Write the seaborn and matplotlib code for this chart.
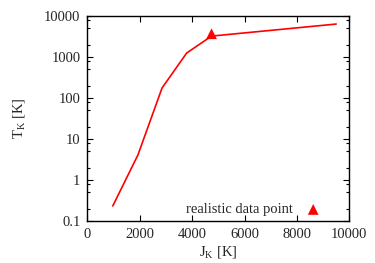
import matplotlib
matplotlib.use("Agg")
import matplotlib.pyplot as plt
import matplotlib.ticker as mticker
import seaborn as sns
import pandas as pd

# data
j_k = [970, 1930, 2850, 3790, 4740, 9500]
t_k = [0.232, 4.07, 175, 1250, 3240, 6380]
real_j = [4740]
real_t = [3700]

sns.set_style("ticks")
plt.rcParams['font.family'] = ['Liberation Serif', 'DejaVu Serif']
plt.rcParams['mathtext.fontset'] = 'custom'
plt.rcParams['mathtext.rm'] = 'Liberation Serif'
plt.rcParams['mathtext.it'] = 'Liberation Serif:italic'
plt.rcParams['font.size'] = 10.5

df = pd.DataFrame({'J': j_k, 'T': t_k})
pt = pd.DataFrame({'J': real_j, 'T': real_t})

fig = plt.figure(figsize=(3.75, 2.63), dpi=100)
ax = fig.add_axes([0.233, 0.160, 0.6985, 0.779])

sns.lineplot(data=df, x='J', y='T', color='#ff0000', lw=1.2, ax=ax)
sns.scatterplot(data=pt, x='J', y='T', marker='^', color='#ff0000', s=60,
                edgecolor='none', label='realistic data point', ax=ax)

ax.set_yscale('log')
ax.set_xlim(0, 10000)
ax.set_ylim(0.1, 10000)
ax.xaxis.set_major_locator(mticker.MultipleLocator(2000))
ax.yaxis.set_major_locator(mticker.LogLocator(base=10, numticks=10))
ax.yaxis.set_minor_locator(mticker.LogLocator(base=10, subs=(2, 5, 8), numticks=10))
ax.yaxis.set_minor_formatter(mticker.NullFormatter())
ax.yaxis.set_major_formatter(mticker.FuncFormatter(lambda v, p: f"{v:g}"))

ax.tick_params(which='both', direction='in', top=True, right=True, width=0.8, color='black')
ax.tick_params(which='major', length=4, pad=5)
ax.tick_params(which='minor', length=2)
for s in ax.spines.values():
    s.set_linewidth(1.0)
    s.set_color('black')

ax.set_xlabel(r'J$_\mathrm{K}$ [K]', labelpad=2)
ax.set_ylabel(r'T$_\mathrm{K}$ [K]', labelpad=12)

ax.legend(loc='center right', bbox_to_anchor=(0.89, 0.055), markerfirst=False,
          frameon=False, handletextpad=0.9, borderaxespad=0, borderpad=0,
          handlelength=1.0)

fig.savefig('out.png', dpi=100)
